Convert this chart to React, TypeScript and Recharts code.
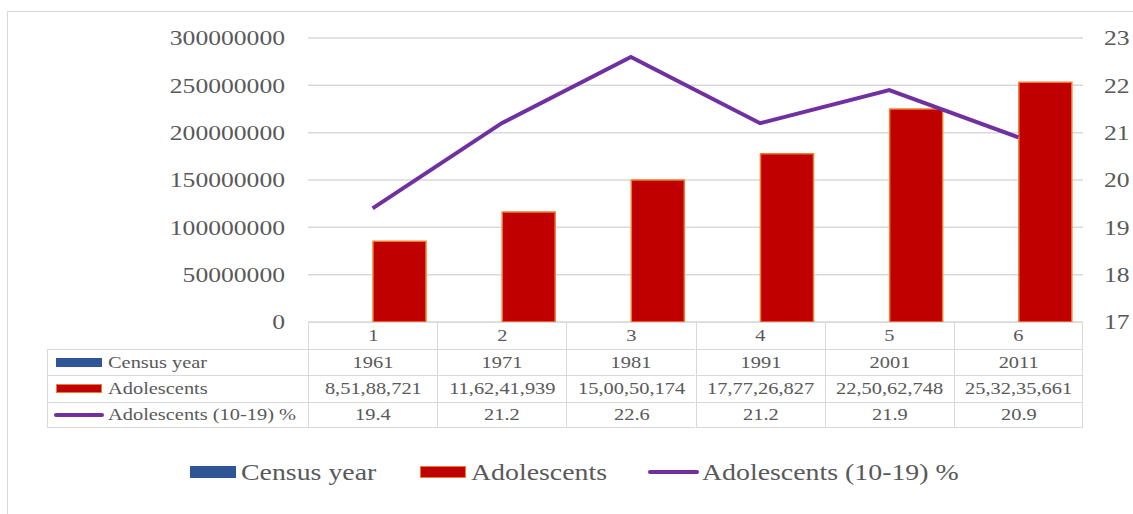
import React from "react";
import { ComposedChart, Bar, Line, XAxis, YAxis, CartesianGrid } from "recharts";

const categories = ["1", "2", "3", "4", "5", "6"];
const censusYears = [1961, 1971, 1981, 1991, 2001, 2011];
const adolescents = [85188721, 116241939, 150050174, 177726827, 225062748, 253235661];
const adolescentPct = [19.4, 21.2, 22.6, 21.2, 21.9, 20.9];
const leftTicks = [0, 50000000, 100000000, 150000000, 200000000, 250000000, 300000000];
const rightTicks = [17, 18, 19, 20, 21, 22, 23];

const SERIF = "Liberation Serif, Times New Roman, serif";
const TEXT = "#595959";
const GRID = "#d9d9d9";
const BLUE = "#2F5597";
const RED = "#C00000";
const ORANGE = "#ED7D31";
const PURPLE = "#7030A0";

// plot geometry (page px)
const PLOT_LEFT = 308;
const PLOT_RIGHT = 1083;
const PLOT_BOTTOM = 322;
const ROW_H = 26.5;
const COL_W = (PLOT_RIGHT - PLOT_LEFT) / categories.length;
const TABLE_LEFT = 47;

const chartData = categories.map((cat, i) => ({
  cat,
  census: censusYears[i],
  adolescents: adolescents[i],
  pct: adolescentPct[i],
}));

// 85188721 -> 8,51,88,721
function formatIndian(n: number) {
  const s = String(n);
  const last3 = s.slice(-3);
  let rest = s.slice(0, -3);
  const parts: string[] = [];
  while (rest.length > 2) {
    parts.unshift(rest.slice(-2));
    rest = rest.slice(0, -2);
  }
  if (rest) parts.unshift(rest);
  return parts.length ? parts.join(",") + "," + last3 : last3;
}

const LeftTick = (props: any) => {
  const { x, y, payload } = props;
  return (
    <text
      transform={`translate(${x},${y}) scale(1.22,1)`}
      textAnchor="end"
      dominantBaseline="central"
      fontFamily={SERIF}
      fontSize={21}
      fill={TEXT}
    >
      {payload.value}
    </text>
  );
};

const RightTick = (props: any) => {
  const { x, y, payload } = props;
  return (
    <text
      transform={`translate(${x},${y}) scale(1.22,1)`}
      textAnchor="start"
      dominantBaseline="central"
      fontFamily={SERIF}
      fontSize={21}
      fill={TEXT}
    >
      {payload.value}
    </text>
  );
};

const series = [
  { name: "Census year", kind: "bar", color: BLUE, border: BLUE, values: censusYears.map(String) },
  { name: "Adolescents", kind: "bar", color: RED, border: ORANGE, values: adolescents.map(formatIndian) },
  { name: "Adolescents (10-19) %", kind: "line", color: PURPLE, border: PURPLE, values: adolescentPct.map((v) => v.toFixed(1)) },
];

const Key = ({ s, w, h }: { s: (typeof series)[number]; w: number; h: number }) =>
  s.kind === "line" ? (
    <span style={{ display: "inline-block", width: w, height: 4, borderRadius: 2, background: s.color }} />
  ) : (
    <span
      style={{
        display: "inline-block",
        width: w,
        height: h,
        boxSizing: "border-box",
        background: s.color,
        border: `1.5px solid ${s.border}`,
      }}
    />
  );

const stretched = (text: string, size: number, k: number, origin = "left") => (
  <span
    style={{
      display: "inline-block",
      fontFamily: SERIF,
      fontSize: size,
      color: TEXT,
      transform: `scaleX(${k})`,
      transformOrigin: origin,
      whiteSpace: "nowrap",
      lineHeight: 1,
    }}
  >
    {text}
  </span>
);

const cellBorder = `1.5px solid ${GRID}`;

function DataTable() {
  const cells: React.ReactNode[] = [];
  // category row
  categories.forEach((c, i) => {
    cells.push(
      <div
        key={`c${i}`}
        style={{
          position: "absolute",
          left: PLOT_LEFT + i * COL_W,
          top: PLOT_BOTTOM,
          width: COL_W,
          height: ROW_H,
          boxSizing: "border-box",
          borderLeft: cellBorder,
          borderTop: cellBorder,
          borderRight: i === categories.length - 1 ? cellBorder : undefined,
          display: "flex",
          alignItems: "center",
          justifyContent: "center",
        }}
      >
        {stretched(c, 17, 1.2, "center")}
      </div>
    );
  });
  series.forEach((s, r) => {
    const top = PLOT_BOTTOM + ROW_H * (r + 1);
    const last = r === series.length - 1;
    cells.push(
      <div
        key={`l${r}`}
        style={{
          position: "absolute",
          left: TABLE_LEFT,
          top,
          width: PLOT_LEFT - TABLE_LEFT,
          height: ROW_H,
          boxSizing: "border-box",
          borderLeft: cellBorder,
          borderTop: cellBorder,
          borderBottom: last ? cellBorder : undefined,
          display: "flex",
          alignItems: "center",
          paddingLeft: s.kind === "line" ? 6 : 8,
          gap: s.kind === "line" ? 4 : 6,
        }}
      >
        <Key s={s} w={s.kind === "line" ? 50 : 46} h={9} />
        {stretched(s.name, 17, 1.2)}
      </div>
    );
    s.values.forEach((v, i) => {
      cells.push(
        <div
          key={`v${r}-${i}`}
          style={{
            position: "absolute",
            left: PLOT_LEFT + i * COL_W,
            top,
            width: COL_W,
            height: ROW_H,
            boxSizing: "border-box",
            borderLeft: cellBorder,
            borderTop: cellBorder,
            borderRight: i === categories.length - 1 ? cellBorder : undefined,
            borderBottom: last ? cellBorder : undefined,
            display: "flex",
            alignItems: "center",
            justifyContent: "center",
          }}
        >
          {stretched(v, 17, 1.2, "center")}
        </div>
      );
    });
  });
  return <>{cells}</>;
}

const legendLefts = [190, 420, 648];

function BottomLegend() {
  return (
    <>
      {series.map((s, i) => (
        <div
          key={s.name}
          style={{
            position: "absolute",
            left: legendLefts[i],
            top: 458,
            height: 28,
            display: "flex",
            alignItems: "center",
            gap: s.kind === "line" ? 3 : 5,
          }}
        >
          <Key s={s} w={s.kind === "line" ? 51 : 46} h={12} />
          {stretched(s.name, 24, 1.16)}
        </div>
      ))}
    </>
  );
}

export default function App() {
  return (
    <div style={{ position: "absolute", left: 0, top: 0, width: 1133, height: 514, overflow: "hidden", background: "#fff" }}>
      <div
        style={{
          position: "absolute",
          left: 7,
          top: 11,
          width: 1150,
          height: 520,
          border: `1.5px solid ${GRID}`,
        }}
      />
      <ComposedChart
        width={1133}
        height={514}
        data={chartData}
        margin={{ top: 38, right: 0, left: 208, bottom: 192 }}
        barGap={0}
        style={{ position: "absolute", left: 0, top: 0 }}
      >
        <CartesianGrid yAxisId="left" vertical={false} stroke={GRID} strokeWidth={1.5} />
        <XAxis dataKey="cat" hide />
        <YAxis
          yAxisId="left"
          orientation="left"
          width={100}
          domain={[0, 300000000]}
          ticks={leftTicks}
          axisLine={false}
          tickLine={false}
          tickMargin={17}
          tick={<LeftTick />}
          interval={0}
        />
        <YAxis
          yAxisId="right"
          orientation="right"
          width={50}
          domain={[17, 23]}
          ticks={rightTicks}
          axisLine={false}
          tickLine={false}
          tickMargin={15}
          tick={<RightTick />}
          interval={0}
        />
        <Bar yAxisId="left" dataKey="census" name="Census year" fill={BLUE} barSize={53} isAnimationActive={false} />
        <Bar
          yAxisId="left"
          dataKey="adolescents"
          name="Adolescents"
          fill={RED}
          stroke={ORANGE}
          strokeWidth={1.5}
          barSize={53}
          isAnimationActive={false}
        />
        <Line
          yAxisId="right"
          dataKey="pct"
          name="Adolescents (10-19) %"
          type="linear"
          stroke={PURPLE}
          strokeWidth={4}
          dot={false}
          activeDot={false}
          isAnimationActive={false}
        />
      </ComposedChart>
      <DataTable />
      <BottomLegend />
    </div>
  );
}
